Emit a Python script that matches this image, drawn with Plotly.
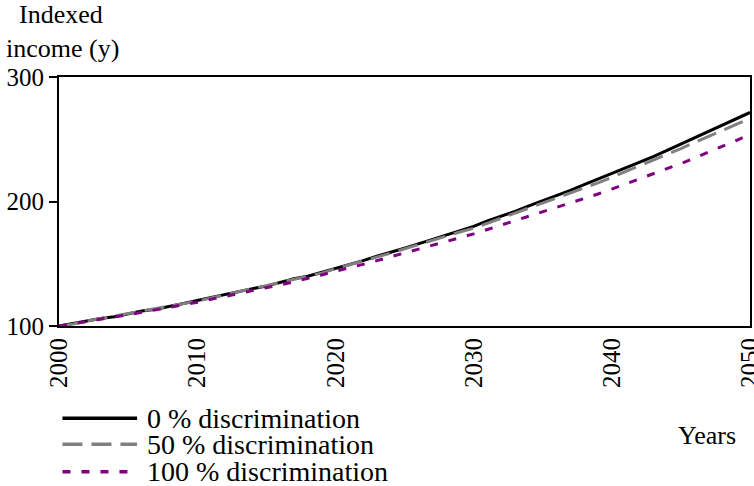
import plotly.graph_objects as go

years = list(range(2000, 2051))
series_names = ["0 % discrimination", "50 % discrimination", "100 % discrimination"]
disc_0 = [100, 102, 104.5, 106, 107.5, 110, 112, 113.5, 115.5, 118,
          120.5, 123, 125, 127.5, 130, 132, 135, 138, 140, 143,
          146.5, 149.5, 152.5, 156, 159, 162.5, 166, 169.5, 173, 176.5,
          180, 184.5, 188, 192, 196.5, 200.5, 205, 209, 213.5, 218,
          222.5, 226.5, 231.5, 236, 241, 246, 251, 256, 261.5, 266.5,
          271.5]
disc_50 = [100, 101.5, 104, 106, 107.5, 109.5, 111.5, 113.5, 115.5, 117.5,
           120, 122.5, 125, 127, 129.5, 132, 134.5, 137, 139.5, 142.5,
           146, 149, 152, 155, 158.5, 162, 165.5, 169, 172, 175.5,
           178.5, 182.5, 186.5, 190.5, 194.5, 198.5, 202.5, 206.5, 211, 215,
           219.5, 224, 228.5, 233, 238, 242.5, 247.5, 252, 257, 262,
           266.5]
disc_100 = [100, 101.5, 103.5, 105.5, 107, 109, 111, 113, 115, 116.5,
            119, 121.5, 123.5, 126, 128.5, 130.5, 133, 135.5, 138, 141,
            144, 146.5, 149.5, 152.5, 155.5, 158.5, 161.5, 164.5, 168, 171,
            174, 177.5, 181, 184.5, 188, 191.5, 195, 198.5, 202, 206,
            210, 214, 218, 222, 226, 230.5, 235, 239.5, 244, 249,
            254]
y_ticks = [100, 200, 300]
x_ticks = [2000, 2010, 2020, 2030, 2040, 2050]

colors = ["#000000", "#808080", "#800080"]
dashes = ["solid", "20px,9px", "8px,11px"]
values = [disc_0, disc_50, disc_100]

FONT = "Liberation Serif, Times New Roman, serif"

fig = go.Figure()
for name, vals, c, d in zip(series_names, values, colors, dashes):
    fig.add_trace(go.Scatter(x=years, y=vals, mode="lines", name=name,
                             line=dict(color=c, width=3, dash=d),
                             showlegend=False))

# manual legend (long line samples as in the reference)
leg_y = [-0.37, -0.475, -0.585]
for name, c, d, yy in zip(series_names, colors, dashes, leg_y):
    fig.add_shape(type="line", xref="paper", yref="paper",
                  x0=0.005, x1=0.113, y0=yy, y1=yy,
                  line=dict(color=c, width=3.5, dash=d))
    fig.add_annotation(text=name, xref="paper", yref="paper", x=0.124, y=yy,
                       xanchor="left", yanchor="middle", showarrow=False,
                       font=dict(family=FONT, size=28, color="black"))

fig.add_annotation(text="Indexed", xref="paper", yref="paper", x=0.003, y=1.25,
                   xanchor="center", yanchor="middle", showarrow=False,
                   font=dict(family=FONT, size=26, color="black"))
fig.add_annotation(text="income (y)", xref="paper", yref="paper", x=0.005, y=1.115,
                   xanchor="center", yanchor="middle", showarrow=False,
                   font=dict(family=FONT, size=26, color="black"))
fig.add_annotation(text="Years", xref="paper", yref="paper", x=0.938, y=-0.438,
                   xanchor="center", yanchor="middle", showarrow=False,
                   font=dict(family=FONT, size=26, color="black"))

fig.update_layout(
    width=754, height=486,
    margin=dict(l=59, r=4, t=77, b=160),
    paper_bgcolor="white", plot_bgcolor="white",
    font=dict(family=FONT, size=25, color="black"),
)
fig.update_xaxes(range=[2000, 2050], tickvals=x_ticks, tickangle=-90,
                 ticklabeloverflow="allow", automargin=False,
                 showgrid=False, zeroline=False, showline=True, linecolor="black",
                 linewidth=2, mirror=True, ticks="",
                 tickfont=dict(family=FONT, size=25))
fig.update_yaxes(range=[100, 300], tickvals=y_ticks, showgrid=False, zeroline=False,
                 automargin=False,
                 showline=True, linecolor="black", linewidth=2, mirror=True,
                 ticks="outside", ticklen=8, tickwidth=1.5, tickcolor="black",
                 tickfont=dict(family=FONT, size=25))

fig.write_html("out.html", config={"displayModeBar": False},
               post_script="document.body.style.margin='0';document.body.style.overflow='hidden';")
